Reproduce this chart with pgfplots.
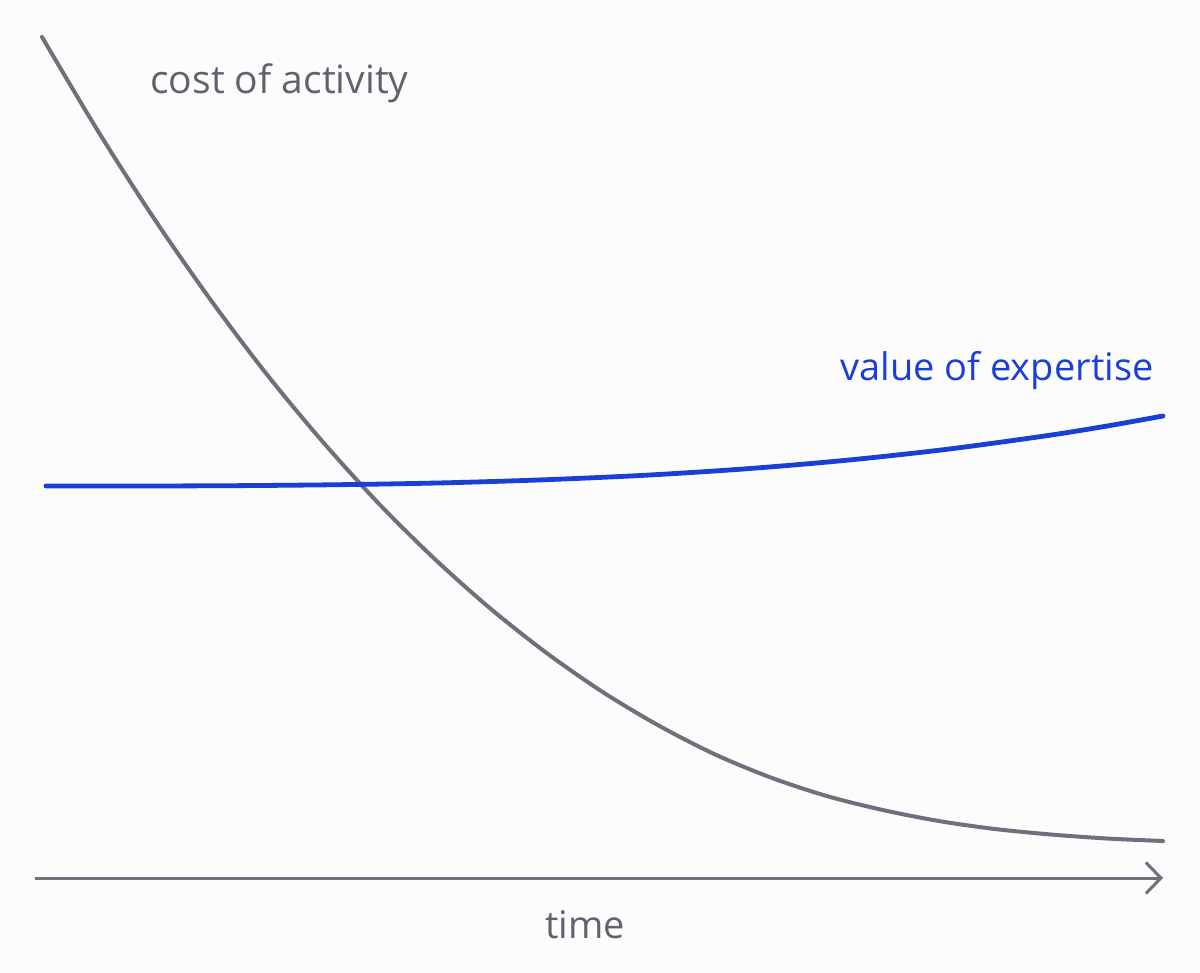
\documentclass[border=0pt]{standalone}
\usepackage{pgfplots}
\pgfplotsset{compat=1.18}
\usepackage{fontspec}
\setmainfont{Open Sans}
\usetikzlibrary{arrows.meta}
\definecolor{bg}{HTML}{FCFCFD}
\definecolor{curvegray}{HTML}{6E717B}
\definecolor{textgray}{HTML}{5F636E}
\definecolor{vblue}{HTML}{1A3FD8}
\begin{document}
\begin{tikzpicture}
\begin{axis}[
  scale only axis,
  width=600pt, height=486.5pt,
  xmin=0, xmax=1200, ymin=0, ymax=973,
  y dir=reverse,
  axis lines=none, ticks=none,
  axis background/.style={fill=bg},
  clip=false,
]
% x axis arrow
\addplot[curvegray, line width=1.5pt, -{Straight Barb[length=7.5pt,width=15.5pt,line width=1.5pt]}, forget plot]
  coordinates {(35,878) (1163,878)};
% cost of activity
\addplot[curvegray, line width=2pt, smooth, line cap=round]
  coordinates {(42,37) (98.1,131.2) (154.1,218.6) (210.2,299.3) (266.2,373.6) (322.3,441.3) (378.3,503.1) (434.4,558.7) (490.4,608.6) (546.5,652.9) (602.5,691.9) (658.6,725.5) (714.6,754.2) (770.7,777.5) (826.7,796) (882.8,810) (938.8,821) (994.9,829) (1050.9,834.5) (1107,838.5) (1163,841)};
% value of expertise
\addplot[vblue, line width=2.4pt, smooth, line cap=round]
  coordinates {(46,486) (146,486) (246,485.6) (346,484.6) (446,482.8) (546,479.7) (646,475.2) (746,468.8) (846,460.3) (946,449.4) (1046,435.8) (1106,426.2) (1163,416)};
\node[anchor=base west, text=textgray, font=\fontsize{19.5}{22}\selectfont, inner sep=0pt] at (axis cs:150,94) {cost of activity};
\node[anchor=base west, text=vblue, font=\fontsize{19}{22}\selectfont, inner sep=0pt] at (axis cs:840,380) {value of expertise};
\node[anchor=base, text=textgray, font=\fontsize{19}{22}\selectfont, inner sep=0pt] at (axis cs:585,938) {time};
\end{axis}
\end{tikzpicture}
\end{document}
